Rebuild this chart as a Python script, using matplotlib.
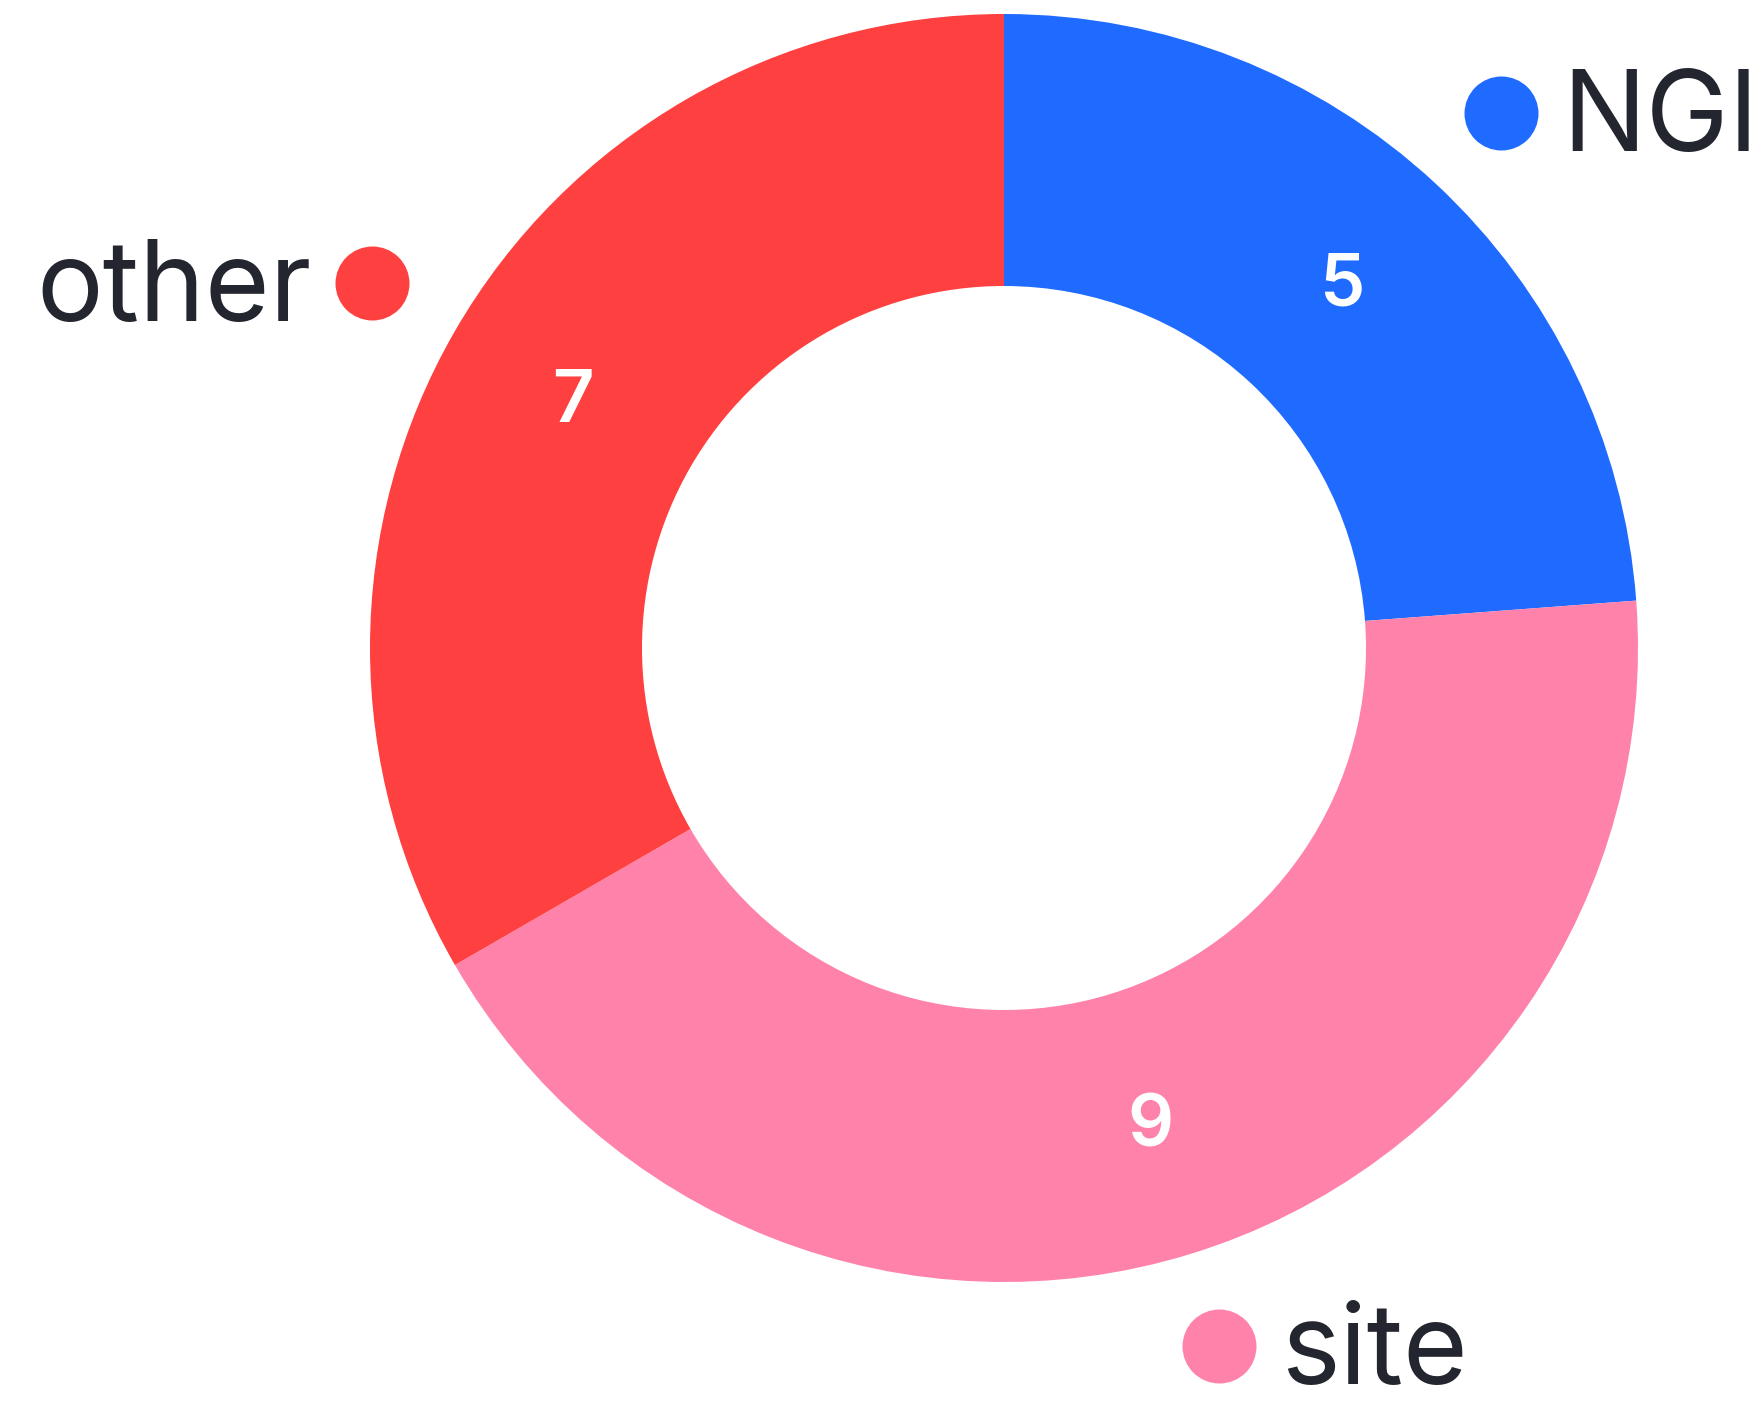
import math

import matplotlib

matplotlib.use("Agg")

import matplotlib.pyplot as plt

labels = ["NGI", "site", "other"]
values = [5, 9, 7]
colors = ["#1f6bff", "#ff82aa", "#ff4040"]

W, H = 1763, 1402
cx, cy = 1004, H - 648
r_out, r_in = 634, 362
r_label = 730
text_color = "#23262f"

plt.rcParams["font.family"] = ["Inter", "DejaVu Sans"]

fig = plt.figure(figsize=(W / 100, H / 100), dpi=100, facecolor="white")
ax = fig.add_axes([0, 0, 1, 1])

wedges, _ = ax.pie(
    values,
    colors=colors,
    startangle=90,
    counterclock=False,
    radius=r_out,
    center=(cx, cy),
    wedgeprops=dict(width=r_out - r_in, linewidth=0),
)
ax.set_xlim(0, W)
ax.set_ylim(0, H)
ax.set_aspect("equal")
ax.axis("off")

r_mid = (r_out + r_in) / 2
for w, lab, val, col in zip(wedges, labels, values, colors):
    ang = math.radians((w.theta1 + w.theta2) / 2)
    ax.text(cx + r_mid * math.cos(ang), cy + r_mid * math.sin(ang) - 4, str(val),
            color="white", fontsize=52, fontweight="semibold",
            ha="center", va="center")

    dx, dy = cx + r_label * math.cos(ang), cy + r_label * math.sin(ang)
    ax.scatter([dx], [dy], s=(37 * 0.72 * 2) ** 2, color=col, linewidths=0, zorder=3)
    if math.cos(ang) >= 0:
        ax.text(dx + 62, dy - 38, lab, color=text_color, fontsize=80,
                ha="left", va="baseline")
    else:
        ax.text(dx - 60, dy - 38, lab, color=text_color, fontsize=80,
                ha="right", va="baseline")

fig.savefig("out.png", dpi=100, facecolor="white")
